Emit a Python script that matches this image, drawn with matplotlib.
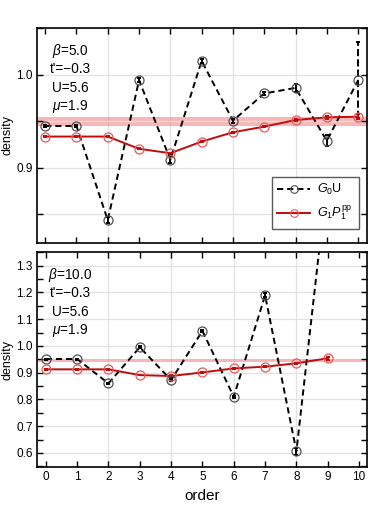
import matplotlib
matplotlib.use("Agg")
import matplotlib.pyplot as plt
from matplotlib.ticker import MultipleLocator, FuncFormatter
from matplotlib.lines import Line2D

plt.rcParams['font.family'] = ['Liberation Sans', 'DejaVu Sans']
plt.rcParams['mathtext.fontset'] = 'custom'
plt.rcParams['mathtext.rm'] = 'Liberation Sans'
plt.rcParams['mathtext.it'] = 'Liberation Sans:italic'

# ---------------- data ----------------
order_top = [0, 1, 2, 3, 4, 5, 6, 7, 8, 9, 10]
g0u_top = [0.945, 0.945, 0.8436, 0.9943, 0.9086, 1.015, 0.9507, 0.980, 0.986, 0.929, 0.9943]
g0u_top_err = [0.001, 0.001, 0.003, 0.002, 0.003, 0.002, 0.002, 0.002, 0.004, 0.006, 0.041]
g1p_top = [0.9336, 0.9336, 0.9336, 0.9204, 0.9157, 0.9282, 0.9382, 0.9443, 0.9514, 0.9543, 0.9550]
g1p_top_err = [0.0005, 0.0005, 0.0005, 0.0005, 0.0005, 0.0005, 0.0005, 0.0005, 0.001, 0.0015, 0.003]
band_top = (0.945, 0.955)
params_top = [r'$\beta$=5.0', "t'=\u22120.3", 'U=5.6', r'$\mu$=1.9']

order_bot = [0, 1, 2, 3, 4, 5, 6, 7, 8, 9]
g0u_bot = [0.951, 0.951, 0.860, 0.995, 0.8725, 1.056, 0.810, 1.189, 0.606, 1.64]
g0u_bot_err = [0.002, 0.002, 0.003, 0.003, 0.004, 0.005, 0.004, 0.008, 0.012, 0.02]
g1p_bot = [0.9125, 0.9125, 0.9125, 0.891, 0.8875, 0.901, 0.916, 0.9225, 0.935, 0.954]
g1p_bot_err = [0.001, 0.001, 0.001, 0.001, 0.002, 0.002, 0.002, 0.002, 0.003, 0.005]
band_bot = (0.940, 0.951)
params_bot = [r'$\beta$=10.0', "t'=\u22120.3", 'U=5.6', r'$\mu$=1.9']

BLACK = 'black'
RED = '#c00c0c'
RED_MK = '#e85a5a'
GREY_MK = '#505050'
DASH = (0, (3.2, 2.0))

fig = plt.figure(figsize=(3.74, 5.05), dpi=100)
ax1 = fig.add_axes([0.099, 0.5188, 0.882, 0.4258])
ax2 = fig.add_axes([0.099, 0.0752, 0.882, 0.4258])


def draw(ax, x, g0, g0e, g1, g1e, band, params, ylim, ymaj, ymin_step, labels_at, xlim):
    ax.set_xlim(*xlim)
    ax.set_ylim(*ylim)
    for xv in range(2, 10, 2):
        ax.axvline(xv, color='#e2e2e2', lw=0.9, zorder=0)
    ax.yaxis.set_major_locator(MultipleLocator(ymaj))
    ax.yaxis.set_minor_locator(MultipleLocator(ymin_step))
    ax.grid(axis='y', which='major', color='#e2e2e2', lw=0.9, zorder=0)
    ax.axhspan(band[0], band[1], color='#f47c7c', alpha=0.55, lw=0, zorder=1)

    eb = ax.errorbar(x, g0, yerr=g0e, color=BLACK, ls=DASH, lw=1.4,
                     capsize=1.5, capthick=1.4, elinewidth=1.4, zorder=3)
    for c in eb[2]:
        c.set_linestyle('--')
    ax.plot(x, g0, ls='none', marker='o', ms=6.5, mfc='none', mec=GREY_MK, mew=0.9, zorder=4)
    ax.errorbar(x, g1, yerr=g1e, color=RED, ls='-', lw=1.4,
                capsize=1.5, capthick=1.4, elinewidth=1.4, zorder=3)
    ax.plot(x, g1, ls='none', marker='o', ms=6.5, mfc='none', mec=RED_MK, mew=0.9, zorder=4)

    ax.xaxis.set_major_locator(MultipleLocator(1))
    ax.tick_params(which='both', direction='in', top=True, right=True,
                   length=4, width=1.0, labelsize=8.5, pad=3)
    for s in ax.spines.values():
        s.set_linewidth(1.2)
    ax.yaxis.set_major_formatter(FuncFormatter(
        lambda v, p: ('%.1f' % v) if any(abs(v - l) < 1e-6 for l in labels_at) else ''))
    ax.set_ylabel('density', fontsize=9, labelpad=2)
    for i, t in enumerate(params):
        ax.text(0.10, 0.895 - i * 0.086, t, transform=ax.transAxes, ha='center',
                va='center', fontsize=9.8)


draw(ax1, order_top, g0u_top, g0u_top_err, g1p_top, g1p_top_err, band_top, params_top,
     (0.819, 1.0505), 0.05, 0.05, [0.9, 1.0], (-0.26, 10.28))
ax1.tick_params(labelbottom=False)

draw(ax2, order_bot, g0u_bot, g0u_bot_err, g1p_bot, g1p_bot_err, band_bot, params_bot,
     (0.5475, 1.351), 0.1, 0.05, [0.6, 0.7, 0.8, 0.9, 1.0, 1.1, 1.2, 1.3], (-0.28, 10.25))
ax2.set_xlabel('order', fontsize=11, labelpad=4)

h1 = Line2D([], [], color=BLACK, ls=DASH, lw=1.4, marker='o', ms=5.5,
            mfc='none', mec=GREY_MK, mew=0.8)
h2 = Line2D([], [], color=RED, ls='-', lw=1.4, marker='o', ms=5.5,
            mfc='none', mec=RED_MK, mew=0.8)
leg = ax1.legend([h1, h2], [r'$G_0$U', r'$G_1P_1^{\rm pp}$'], loc='lower right',
                 bbox_to_anchor=(0.975, 0.065), fontsize=9, frameon=True,
                 fancybox=False, edgecolor='#303030', handlelength=2.6,
                 borderpad=0.45, labelspacing=0.55, handletextpad=0.6, borderaxespad=0)
leg.get_frame().set_linewidth(1.0)

fig.savefig('out.png', dpi=100)
